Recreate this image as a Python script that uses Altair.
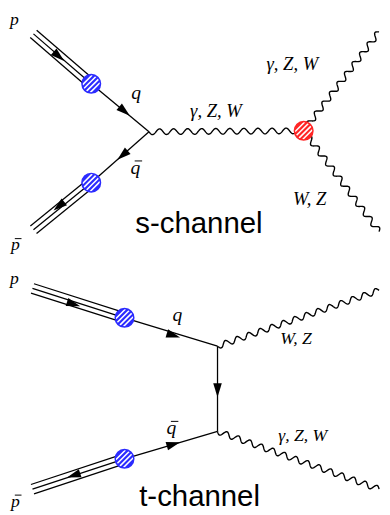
import altair as alt
import numpy as np
import pandas as pd

# ---- node positions (image pixels, y downward) ----
# s-channel
P1 = (34, 29);  B1 = (93, 80);  V1 = (152, 129)
P2 = (34, 229); B2 = (93, 181)
R = (310, 128); O1 = (387, 27); O2 = (387, 231)
# t-channel
P3 = (33, 289); B3 = (127, 319); V3 = (222, 348)
P4 = (33, 494); B4 = (127, 463); V4 = (222, 435)
O3 = (387, 291); O4 = (387, 494)

# proton (triple) lines: start, end
triple_lines = [(P1, B1), (P2, B2), (P3, B3), (P4, B4)]
triple_offsets = [-5.0, 0.0, 5.0]
# single fermion lines
fermion_lines = [(B1, V1), (V1, B2), (B3, V3), (V3, V4), (V4, B4)]
# boson (wavy) lines and their wavelengths
boson_lines = [(V1, R), (R, O1), (R, O2), (V3, O3), (V4, O4)]
boson_wl = [14.0, 12.5, 12.5, 12.5, 12.5]
# arrows: (position, from, to) giving direction
arrow_pos = [(60, 52), (127, 108), (125, 153), (60, 205),
             (75, 305), (177, 337), (222, 393), (177, 448), (75, 480)]
arrow_dir = [(P1, B1), (B1, V1), (V1, B2), (B2, P2),
             (P3, B3), (B3, V3), (V3, V4), (B4, V4), (B4, P4)]
# blobs
blue_blobs = [B1, B2, B3, B4]
red_blobs = [R]
blob_r = 9.5
hatch_offsets = [-5.6, -1.9, 1.9, 5.6]

# labels: text, x(left), y(baseline), size, overbar flag
math_text = ["p", "q", "q", "p", "\u03b3, Z, W", "\u03b3, Z, W", "W, Z",
             "p", "q", "q", "p", "W, Z", "\u03b3, Z, W"]
math_x = [10, 134, 133, 11, 194, 272, 299, 10, 176, 170, 11, 286, 284]
math_y = [20, 96, 172, 250, 114, 66, 204, 284, 322, 438, 512, 346, 445]
math_size = [18, 20, 20, 18, 19, 19, 19, 18, 20, 20, 18, 18, 18]
math_bar = [0, 0, 1, 1, 0, 0, 0, 0, 0, 1, 1, 0, 0]
title_text = ["s-channel", "t-channel"]
title_x = [138, 142]
title_y = [232, 511]

# ---- build tables ----
seg_rows = []
for (a, b) in triple_lines:
    L = np.hypot(b[0] - a[0], b[1] - a[1])
    nx, ny = -(b[1] - a[1]) / L, (b[0] - a[0]) / L
    for o in triple_offsets:
        seg_rows.append(dict(x=a[0] + nx * o, y=a[1] + ny * o,
                             x2=b[0] + nx * o, y2=b[1] + ny * o))
for (a, b) in fermion_lines:
    seg_rows.append(dict(x=a[0], y=a[1], x2=b[0], y2=b[1]))
segs = pd.DataFrame(seg_rows)

wave_rows = []
for gid, ((a, b), wl0) in enumerate(zip(boson_lines, boson_wl)):
    L = np.hypot(b[0] - a[0], b[1] - a[1])
    ux, uy = (b[0] - a[0]) / L, (b[1] - a[1]) / L
    nx, ny = -uy, ux
    n = max(1, round(L / wl0))
    wl = L / n
    for i, t in enumerate(np.linspace(0, L, int(L * 2) + 1)):
        off = 2.9 * np.sin(2 * np.pi * t / wl)
        wave_rows.append(dict(g=gid, o=i, x=a[0] + ux * t + nx * off,
                              y=a[1] + uy * t + ny * off))
waves = pd.DataFrame(wave_rows)

arr = pd.DataFrame([dict(x=p[0], y=p[1],
                         ang=float(np.degrees(np.arctan2(d[1][1] - d[0][1], d[1][0] - d[0][0])) % 360))
                    for p, d in zip(arrow_pos, arrow_dir)])

def blob_table(centres):
    circ = pd.DataFrame([dict(x=c[0], y=c[1]) for c in centres])
    rows = []
    ux, uy = 1 / np.sqrt(2), -1 / np.sqrt(2)
    nx, ny = 1 / np.sqrt(2), 1 / np.sqrt(2)
    for c in centres:
        for d in hatch_offsets:
            h = np.sqrt(max(blob_r ** 2 - d ** 2, 0)) - 0.6
            rows.append(dict(x=c[0] + nx * d - ux * h, y=c[1] + ny * d - uy * h,
                             x2=c[0] + nx * d + ux * h, y2=c[1] + ny * d + uy * h))
    return circ, pd.DataFrame(rows)

bcirc, bhatch = blob_table(blue_blobs)
rcirc, rhatch = blob_table(red_blobs)

labels = pd.DataFrame(dict(t=math_text, x=math_x, y=math_y, s=math_size, b=math_bar))
bars = labels[labels.b == 1].copy()
bars["bx"] = bars.x + 0.22 * bars.s
bars["bx2"] = bars.x + 0.60 * bars.s
bars["by"] = bars.y - 0.66 * bars.s
titles = pd.DataFrame(dict(t=title_text, x=title_x, y=title_y))

XS = alt.Scale(domain=[8, 390], nice=False, zero=False)
YS = alt.Scale(domain=[8, 515], nice=False, zero=False, reverse=True)
X = lambda f="x": alt.X(f"{f}:Q", scale=XS, axis=None)
Y = lambda f="y": alt.Y(f"{f}:Q", scale=YS, axis=None)

lines = alt.Chart(segs).mark_rule(color="black", strokeWidth=1.3).encode(
    x=X(), y=Y(), x2="x2:Q", y2="y2:Q")
wav = alt.Chart(waves).mark_line(color="black", strokeWidth=1.4).encode(
    x=X(), y=Y(), detail="g:N", order="o:Q")
arrows = alt.Chart(arr).mark_point(
    shape="M1,0 L-1,-0.62 L-1,0.62 Z", filled=True, color="black", opacity=1,
    size=200, strokeWidth=0).encode(x=X(), y=Y(), angle=alt.Angle("ang:Q", scale=None))

def blob_layers(circ, hatch, col):
    d = (2 * blob_r) ** 2
    fill = alt.Chart(circ).mark_point(shape="circle", filled=True, color=col,
                                      opacity=1, size=d, strokeWidth=0).encode(x=X(), y=Y())
    hat = alt.Chart(hatch).mark_rule(color="white", strokeWidth=1.6).encode(
        x=X(), y=Y(), x2="x2:Q", y2="y2:Q")
    ring = alt.Chart(circ).mark_point(shape="circle", filled=False, color=col,
                                      opacity=1, size=d, strokeWidth=1.5).encode(x=X(), y=Y())
    return [fill, hat, ring]

txt = alt.Chart(labels).mark_text(align="left", baseline="alphabetic",
                                  font="Liberation Serif", fontStyle="italic",
                                  color="black").encode(
    x=X(), y=Y(), text="t:N", size=alt.Size("s:Q", scale=None))
barm = alt.Chart(bars).mark_rule(color="black", strokeWidth=1.0).encode(
    x=X("bx"), y=Y("by"), x2="bx2:Q", y2="by:Q")
ttl = alt.Chart(titles).mark_text(align="left", baseline="alphabetic",
                                  font="Liberation Sans", fontSize=30,
                                  color="black").encode(x=X(), y=Y(), text="t:N")

chart = alt.layer(lines, wav, arrows,
                  *blob_layers(bcirc, bhatch, "#2b2bff"),
                  *blob_layers(rcirc, rhatch, "#ff2626"),
                  txt, barm, ttl).properties(
    width=382, height=507, padding=0, autosize=alt.AutoSizeParams(type="none")
).configure_view(stroke=None)

chart.save("out.html", embed_options={"renderer": "svg", "actions": False})
